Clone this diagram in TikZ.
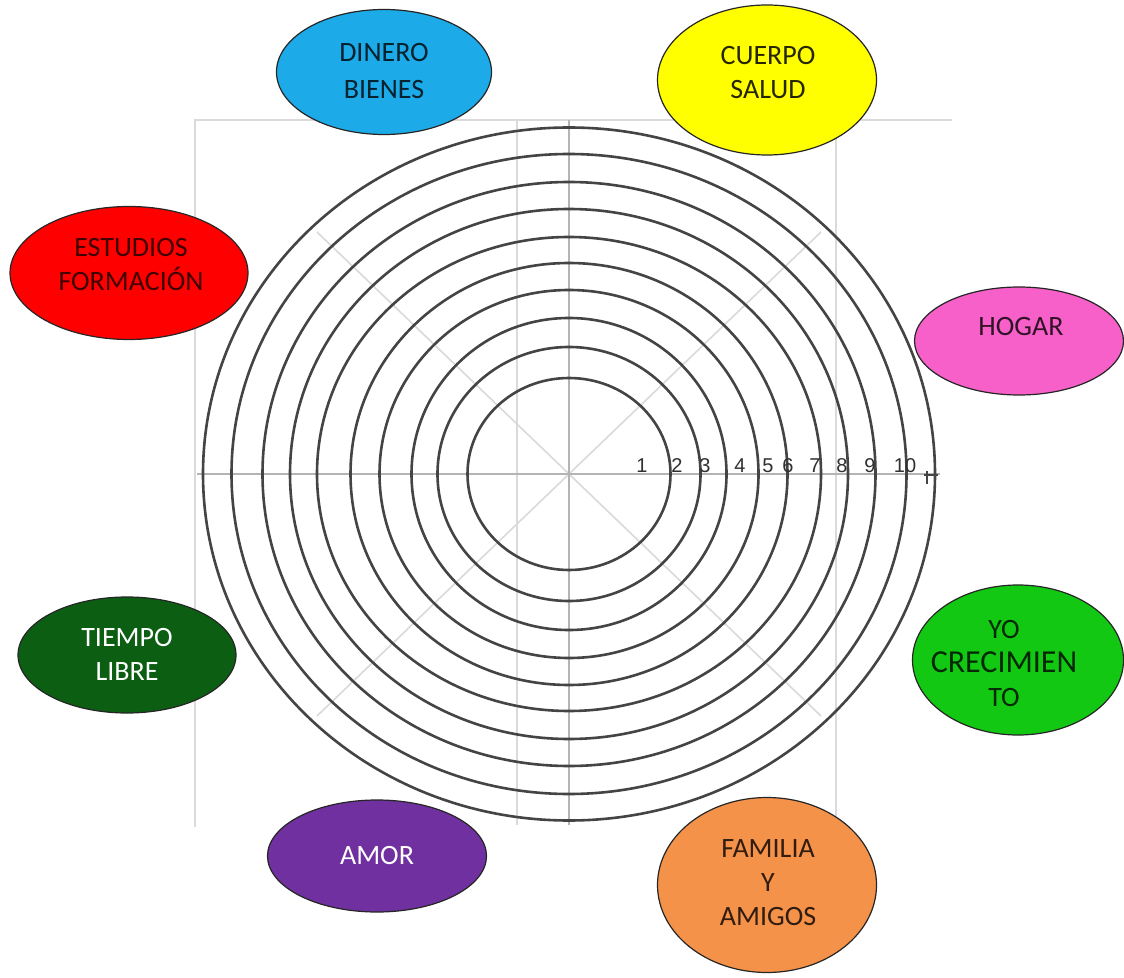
\documentclass[tikz,border=0pt]{standalone}
\usepackage{fontspec}
\setmainfont{Carlito}
\newfontfamily\numfont{Liberation Sans}
\usetikzlibrary{shapes.geometric}
\definecolor{cblue}{HTML}{1CABE8}
\definecolor{cyellow}{HTML}{FFFF00}
\definecolor{cred}{HTML}{FF0000}
\definecolor{cpink}{HTML}{F75FC9}
\definecolor{cdgreen}{HTML}{0B5E12}
\definecolor{cgreen}{HTML}{12C812}
\definecolor{cpurple}{HTML}{7030A0}
\definecolor{corange}{HTML}{F5924A}
\definecolor{ringgray}{HTML}{444444}
\definecolor{axisgray}{HTML}{B4B4B4}
\definecolor{gridgray}{HTML}{DADADA}
\definecolor{numgray}{HTML}{303030}
\begin{document}
\begin{tikzpicture}[x=0.5pt,y=-0.5pt,
  area/.style={ellipse, draw=black!85, line width=0.6pt, inner sep=0pt},
  lbl/.style={align=center, inner sep=0pt, font=\fontsize{14}{17}\selectfont},
  ring/.style={draw=ringgray, line width=1.3pt},
  axisline/.style={draw=axisgray, line width=1pt},
  gridline/.style={draw=gridgray, line width=0.8pt},
  num/.style={font=\numfont\fontsize{10}{11}\selectfont, text=numgray, inner sep=0pt, anchor=base}]
\useasboundingbox (0,0) rectangle (1124,978);
\fill[white] (0,0) rectangle (1124,978);

% grid
\coordinate (c) at (569,474);
\coordinate (tl) at (195,120);
\coordinate (tr) at (952,120);
\coordinate (bl) at (195,827);
\draw[gridline] (bl) -- (tl) -- (tr);
\draw[gridline] (517,120) -- (517,825);
\draw[gridline] (836,120) -- (836,820);
\draw[gridline] (c) -- (821,232);
\draw[gridline] (c) -- (317,232);
\draw[gridline] (c) -- (317,716);
\draw[gridline] (c) -- (821,716);
\draw[axisline] (569,120) -- (569,825);
\draw[axisline] (197,474) -- (940,474);

% rings
\foreach \rx/\ry in {101.5/96, 131.5/127, 157.5/156, 189.5/184, 218.5/211, 252/237, 279/265, 306.5/292, 337.5/320, 366/346.5}{
  \draw[ring] (c) ellipse [x radius=\rx*0.5pt, y radius=\ry*0.5pt];
}

% end tick
\draw[ringgray, line width=1.3pt] (924,475) -- (938,475);
\draw[ringgray, line width=0.8pt] (927,471) -- (927,484);

% numbers
\node[num] (n1) at (642,473) {1};
\node[num] (n2) at (677,473) {2};
\node[num] (n3) at (705,473) {3};
\node[num] (n4) at (740,473) {4};
\node[num] (n5) at (768,473) {5};
\node[num] (n6) at (788,473) {6};
\node[num] (n7) at (815,473) {7};
\node[num] (n8) at (842,473) {8};
\node[num] (n9) at (870,473) {9};
\node[num] (n10) at (905,473) {10};

% areas
\node[area, fill=cblue, minimum width=107.5pt, minimum height=62.5pt] (dinero) at (384,72) {};
\node[lbl, text=black!80!cblue] (dinerot) at (384,71) {DINERO\\[1.5pt]BIENES};

\node[area, fill=cyellow, minimum width=109.5pt, minimum height=75pt] (cuerpo) at (767,80) {};
\node[lbl, text=black!85!cyellow] (cuerpot) at (768,73) {CUERPO\\SALUD};

\node[area, fill=cred, minimum width=119pt, minimum height=66.5pt] (estudios) at (129,273) {};
\node[lbl, text=black!75!cred] (estudiost) at (131,265) {ESTUDIOS\\FORMACIÓN};

\node[area, fill=cpink, minimum width=104.5pt, minimum height=54pt] (hogar) at (1019,341) {};
\node[lbl, text=black!80!cpink] (hogart) at (1021,327) {HOGAR};

\node[area, fill=cdgreen, minimum width=109pt, minimum height=58pt] (tiempo) at (127,655) {};
\node[lbl, text=white] (tiempot) at (127,654) {TIEMPO\\LIBRE};

\node[area, fill=cgreen, minimum width=105.5pt, minimum height=75pt] (yo) at (1018,660) {};
\node[lbl, text=black!80!cgreen] (yot) at (1004,664) {YO\\{\fontsize{16}{17}\selectfont CRECIMIEN}\\TO};

\node[area, fill=cpurple, minimum width=109.5pt, minimum height=56pt] (amor) at (377,856) {};
\node[lbl, text=white] (amort) at (377,856) {AMOR};

\node[area, fill=corange, minimum width=109.5pt, minimum height=87.5pt] (familia) at (767,885) {};
\node[lbl, text=black!80!corange] (familiat) at (768,883) {FAMILIA\\Y\\AMIGOS};
\end{tikzpicture}
\end{document}
